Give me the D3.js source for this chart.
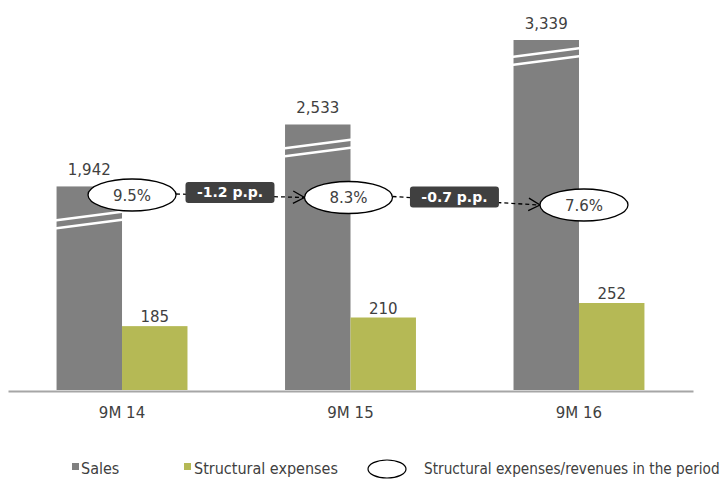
<!DOCTYPE html>
<html>
<head>
<meta charset="utf-8">
<script src="https://cdn.jsdelivr.net/npm/d3@7"></script>
<style>
  html, body { margin: 0; padding: 0; background: #ffffff; }
  svg { display: block; }
</style>
</head>
<body>
<script>
// ---- data ----
const categories = ["9M 14", "9M 15", "9M 16"];
const sales = [1942, 2533, 3339];
const structuralExpenses = [185, 210, 252];
const ratioLabels = ["9.5%", "8.3%", "7.6%"];
const changeLabels = ["-1.2 p.p.", "-0.7 p.p."];
const legendLabels = ["Sales", "Structural expenses", "Structural expenses/revenues in the period"];

// ---- layout ----
const W = 721, H = 479;
const baseY = 390;
const salesColor = "#808080";
const expColor = "#b5b955";
const textColor = "#404040";
const breakOffsets = [34, 24, 17];      // distance of break marks below bar top
const ellipseDx = [10, -2, 5];          // ellipse offset from group center
const ellipseY = [195, 197.5, 205];

const svg = d3.select("body").append("svg").attr("width", W).attr("height", H);

const x = d3.scaleBand().domain(categories).range([8, 693]).paddingInner(0.427).paddingOuter(0.2125);
const xi = d3.scaleBand().domain(["sales", "exp"]).range([0, x.bandwidth()]);
const ySales = d3.scaleLinear().domain([0, d3.max(sales)]).range([baseY, 40]);
const yExp = d3.scaleLinear().domain([0, d3.max(structuralExpenses)]).range([baseY, 303]);

const font = "'DejaVu Sans', Verdana, sans-serif";

// sales bars
const g = svg.append("g");
g.selectAll("rect.sales").data(sales).join("rect")
  .attr("class", "sales")
  .attr("x", (d, i) => x(categories[i]) + xi("sales"))
  .attr("width", xi.bandwidth())
  .attr("y", d => ySales(d))
  .attr("height", d => baseY - ySales(d))
  .attr("fill", salesColor);

// break marks
sales.forEach((d, i) => {
  const x0 = x(categories[i]) + xi("sales") - 2;
  const x1 = x(categories[i]) + xi("sales") + xi.bandwidth() + 2;
  const top = ySales(d) + breakOffsets[i];
  [0, 8].forEach(o => {
    g.append("line")
      .attr("x1", x0).attr("y1", top + o)
      .attr("x2", x1).attr("y2", top + o - 9)
      .attr("stroke", "#ffffff").attr("stroke-width", 2.5);
  });
});

// expense bars
g.selectAll("rect.exp").data(structuralExpenses).join("rect")
  .attr("class", "exp")
  .attr("x", (d, i) => x(categories[i]) + xi("exp"))
  .attr("width", xi.bandwidth())
  .attr("y", d => yExp(d))
  .attr("height", d => baseY - yExp(d))
  .attr("fill", expColor);

// value labels
g.selectAll("text.sl").data(sales).join("text")
  .attr("x", (d, i) => x(categories[i]) + xi("sales") + xi.bandwidth() / 2)
  .attr("y", d => ySales(d) - 11)
  .attr("text-anchor", "middle")
  .attr("font-family", font).attr("font-size", 15).attr("fill", textColor)
  .text(d => d3.format(",")(d));

g.selectAll("text.el").data(structuralExpenses).join("text")
  .attr("x", (d, i) => x(categories[i]) + xi("exp") + xi.bandwidth() / 2)
  .attr("y", d => yExp(d) - 4)
  .attr("text-anchor", "middle")
  .attr("font-family", font).attr("font-size", 15).attr("fill", textColor)
  .text(d => d);

// axis
const ax = svg.append("g").attr("transform", `translate(0,${baseY + 1})`)
  .call(d3.axisBottom(x).tickSize(0).tickSizeOuter(0));
ax.select(".domain").attr("stroke", "#a6a6a6").attr("stroke-width", 2);
ax.selectAll(".tick text")
  .attr("y", 27).attr("dy", 0)
  .attr("font-family", font).attr("font-size", 15).attr("fill", textColor);

// ratio annotations
const rx = 44, ry = 16;
const ell = categories.map((c, i) => ({ cx: x(c) + x.bandwidth() / 2 + ellipseDx[i], cy: ellipseY[i] }));

// arrows and change boxes
changeLabels.forEach((lab, i) => {
  const a = ell[i], b = ell[i + 1];
  const sx = a.cx + rx, sy = a.cy - 1;
  const ex = b.cx - rx, ey = b.cy;
  svg.append("line")
    .attr("x1", sx).attr("y1", sy).attr("x2", ex).attr("y2", ey)
    .attr("stroke", "#000").attr("stroke-width", 1.3).attr("stroke-dasharray", "4,3");
  const ang = Math.atan2(ey - sy, ex - sx);
  const L = 13, sp = 0.5;
  const p1 = [ex - L * Math.cos(ang - sp), ey - L * Math.sin(ang - sp)];
  const p2 = [ex - L * Math.cos(ang + sp), ey - L * Math.sin(ang + sp)];
  svg.append("path")
    .attr("d", `M${p1[0]},${p1[1]}L${ex},${ey}L${p2[0]},${p2[1]}`)
    .attr("fill", "none").attr("stroke", "#000").attr("stroke-width", 1.3);
  const t = 0.42;
  const bx = sx + (ex - sx) * t, by = sy + (ey - sy) * t - 3;
  const bw = 89, bh = 21;
  svg.append("rect")
    .attr("x", bx - bw / 2).attr("y", by - bh / 2).attr("width", bw).attr("height", bh)
    .attr("rx", 3).attr("fill", "#404040");
  svg.append("text")
    .attr("x", bx).attr("y", by + 5)
    .attr("text-anchor", "middle")
    .attr("font-family", font).attr("font-weight", "bold").attr("font-size", 14).attr("fill", "#ffffff")
    .text(lab);
});

ell.forEach((e, i) => {
  svg.append("ellipse")
    .attr("cx", e.cx).attr("cy", e.cy).attr("rx", rx).attr("ry", ry)
    .attr("fill", "#fff").attr("stroke", "#000").attr("stroke-width", 1.3);
  svg.append("text")
    .attr("x", e.cx).attr("y", e.cy + 5.5)
    .attr("text-anchor", "middle")
    .attr("font-family", font).attr("font-size", 15).attr("fill", textColor)
    .text(ratioLabels[i]);
});

// legend
const lf = "'DejaVu Sans Condensed', 'DejaVu Sans', sans-serif";
const ly = 474;
const leg = svg.append("g");
leg.append("rect").attr("x", 72).attr("y", ly - 11).attr("width", 7).attr("height", 7).attr("fill", salesColor);
leg.append("text").attr("x", 81).attr("y", ly).attr("font-family", lf).attr("font-stretch", "condensed")
  .attr("font-size", 16).attr("fill", textColor).text(legendLabels[0]);
leg.append("rect").attr("x", 184).attr("y", ly - 11).attr("width", 7).attr("height", 7).attr("fill", expColor);
leg.append("text").attr("x", 194).attr("y", ly).attr("font-family", lf).attr("font-stretch", "condensed")
  .attr("font-size", 16).attr("fill", textColor).text(legendLabels[1]);
leg.append("ellipse").attr("cx", 387).attr("cy", ly - 5).attr("rx", 19).attr("ry", 9)
  .attr("fill", "#fff").attr("stroke", "#000").attr("stroke-width", 1.2);
leg.append("text").attr("x", 424).attr("y", ly).attr("font-family", lf).attr("font-stretch", "condensed")
  .attr("font-size", 15.2).attr("fill", textColor).text(legendLabels[2]);
</script>
</body>
</html>
